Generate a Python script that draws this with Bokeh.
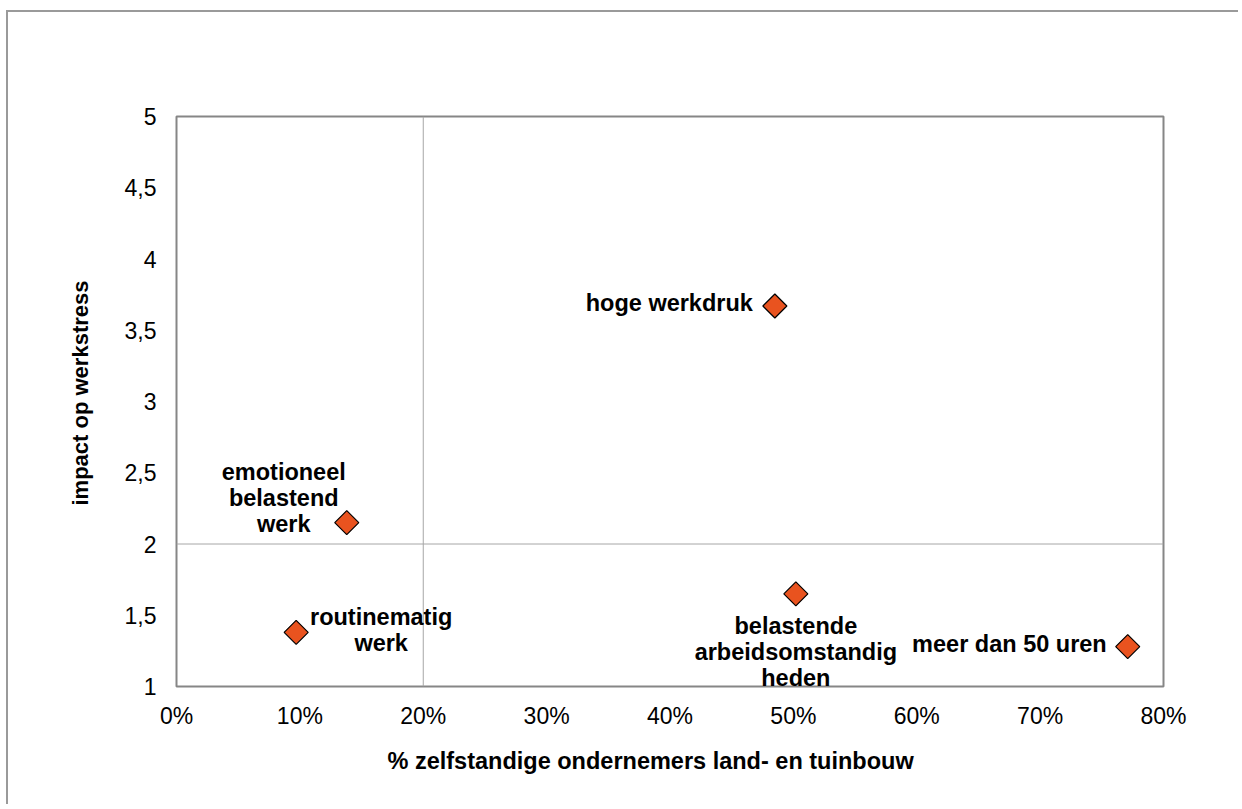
from bokeh.plotting import figure
from bokeh.models import Range1d, FixedTicker, Span, ColumnDataSource, Label, Title
from bokeh.embed import file_html
from bokeh.resources import INLINE

# ---- data ----
labels = [
    "hoge werkdruk",
    "emotioneel\nbelastend\nwerk",
    "routinematig\nwerk",
    "belastende\narbeidsomstandig\nheden",
    "meer dan 50 uren",
]
pct_ondernemers = [48.5, 13.8, 9.7, 50.2, 77.1]
impact = [3.67, 2.15, 1.38, 1.65, 1.28]

x_ticks = [0, 10, 20, 30, 40, 50, 60, 70, 80]
x_tick_labels = ["0%", "10%", "20%", "30%", "40%", "50%", "60%", "70%", "80%"]
y_ticks = [1, 1.5, 2, 2.5, 3, 3.5, 4, 4.5, 5]
y_tick_labels = ["1", "1,5", "2", "2,5", "3", "3,5", "4", "4,5", "5"]

x_title = "% zelfstandige ondernemers land- en tuinbouw"
y_title = "impact op werkstress"

# ---- label layout (styling only; dy in screen px, positive = down) ----
label_layout = {
    "hoge werkdruk": dict(align="right", dx=-22, dy=-3),
    "emotioneel\nbelastend\nwerk": dict(align="center", dx=-63, dy=-25),
    "routinematig\nwerk": dict(align="center", dx=85, dy=-2),
    "belastende\narbeidsomstandig\nheden": dict(align="center", dx=0, dy=58),
    "meer dan 50 uren": dict(align="right", dx=-21, dy=-3),
}

FONT = "Liberation Sans"

p = figure(
    width=1232, height=794,
    x_range=Range1d(0, 80), y_range=Range1d(1, 5),
    output_backend="svg", toolbar_location=None,
    min_border_left=168, min_border_right=77,
    min_border_top=104, min_border_bottom=120,
    styles={"border-top": "2px solid #9a9a9a", "border-left": "2px solid #9a9a9a",
            "margin-top": "10px", "margin-left": "6px"},
)
p.background_fill_color = "white"
p.border_fill_color = "white"
p.outline_line_color = "#868686"
p.outline_line_width = 2
p.xgrid.visible = False
p.ygrid.visible = False

for ax in (p.xaxis, p.yaxis):
    ax.axis_line_color = None
    ax.major_tick_in = 0
    ax.major_tick_out = 0
    ax.minor_tick_in = 0
    ax.minor_tick_out = 0
    ax.major_label_text_font = FONT
    ax.major_label_text_font_size = "23px"
    ax.major_label_text_color = "black"

p.xaxis.ticker = FixedTicker(ticks=x_ticks)
p.xaxis.major_label_overrides = {t: l for t, l in zip(x_ticks, x_tick_labels)}
p.yaxis.ticker = FixedTicker(ticks=y_ticks)
p.yaxis.major_label_overrides = {t: l for t, l in zip(y_ticks, y_tick_labels)}
p.xaxis.major_label_standoff = 16
p.yaxis.major_label_standoff = 20

# axis titles as side titles (allow an off-centre placement like the original)
p.add_layout(Title(text=x_title, align="left", offset=211, standoff=29,
                   text_font=FONT, text_font_size="23.5px", text_font_style="bold",
                   text_color="black"), "below")
p.add_layout(Title(text=y_title, align="left", offset=181, standoff=57,
                   text_font=FONT, text_font_size="22px", text_font_style="bold",
                   text_color="black"), "left")

# quadrant lines
p.add_layout(Span(location=20, dimension="height", line_color="#a6a6a6", line_width=1))
p.add_layout(Span(location=2, dimension="width", line_color="#a6a6a6", line_width=1))

src = ColumnDataSource(dict(x=pct_ondernemers, y=impact, label=labels))
p.scatter("x", "y", source=src, marker="square", size=17, angle=0.785398,
          fill_color="#E9531F", line_color="black", line_width=1.2)

for lx, ly, lab in zip(pct_ondernemers, impact, labels):
    cfg = label_layout[lab]
    p.add_layout(Label(x=lx, y=ly, text=lab, x_offset=cfg["dx"], y_offset=-cfg["dy"],
                       text_align=cfg["align"], text_baseline="middle",
                       text_font=FONT, text_font_size="23.5px", text_font_style="bold",
                       text_color="black", text_line_height=1.0))

open("out.html", "w").write(file_html(p, INLINE))
